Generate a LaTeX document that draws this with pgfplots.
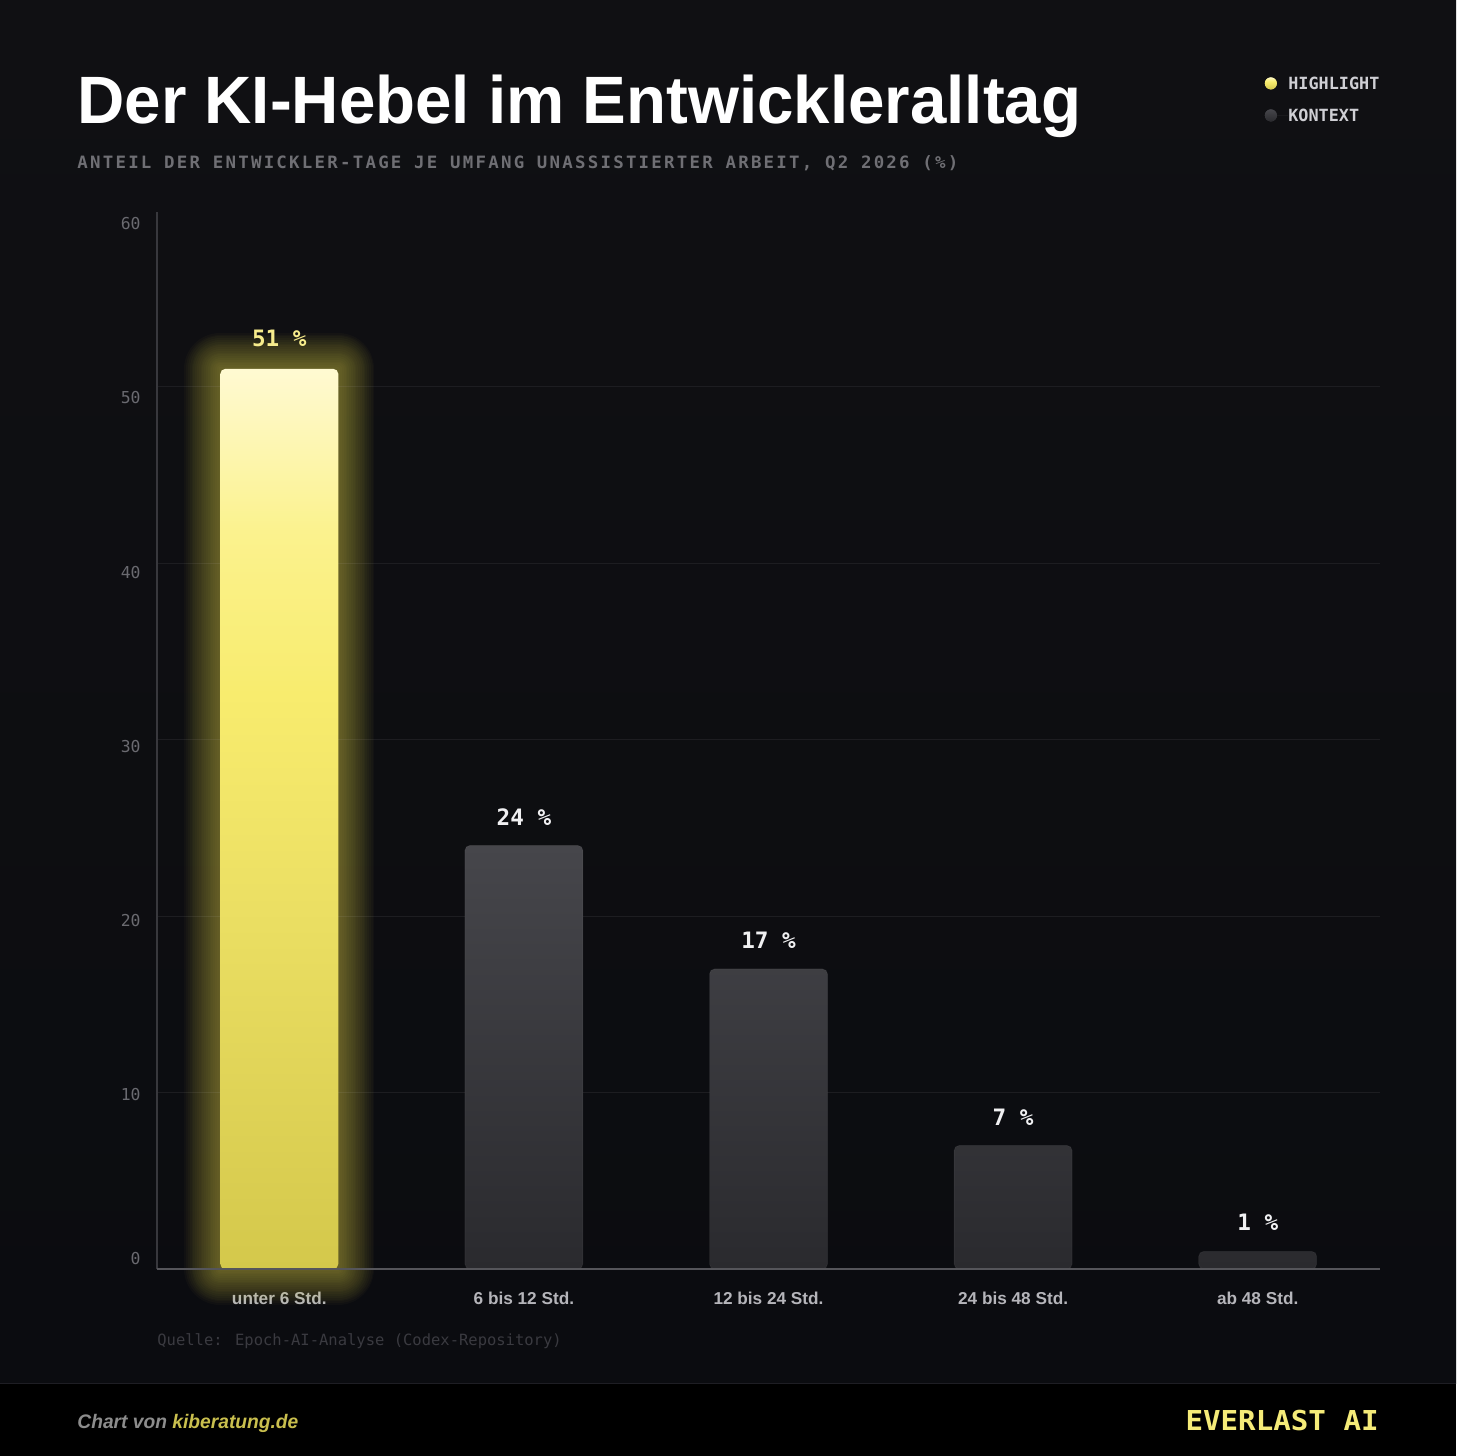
\documentclass[border=0pt]{standalone}
\usepackage{graphicx}
\usepackage{fontspec}
\setmainfont{Liberation Sans}
\newfontfamily\mono{DejaVu Sans Mono}
\newfontfamily\monosp[LetterSpace=12.8]{DejaVu Sans Mono}
\usepackage{pgfplots}
\pgfplotsset{compat=1.18}

% palette
\definecolor{bgtop}{HTML}{101013}
\definecolor{bgbot}{HTML}{0B0C10}
\definecolor{footline}{HTML}{1E1E24}
\definecolor{gridc}{HTML}{1D1D21}
\definecolor{axisc}{HTML}{38383D}
\definecolor{basec}{HTML}{55555A}
\definecolor{ylab}{HTML}{6A6A70}
\definecolor{xlab}{HTML}{B5B5BA}
\definecolor{subc}{HTML}{6F6F74}
\definecolor{srcc}{HTML}{3A3A40}
\definecolor{legc}{HTML}{CFCFD4}
\definecolor{hl}{HTML}{F8EC70}
\definecolor{hl0}{HTML}{D4C84B}
\definecolor{hl1}{HTML}{EBDF63}
\definecolor{hl2}{HTML}{F8EC6E}
\definecolor{hl3}{HTML}{FBF28E}
\definecolor{hl4}{HTML}{FFFAD2}
\definecolor{glow}{HTML}{EDE05A}
\definecolor{hllab}{HTML}{F7EC8C}
\definecolor{ctx}{HTML}{4A4A50}
\definecolor{ctxtop}{HTML}{46464B}
\definecolor{ctxbot}{HTML}{2A2A2E}
\definecolor{vallab}{HTML}{F0F0F2}
\definecolor{fgray}{HTML}{8C8C8C}
\definecolor{kib}{HTML}{C9BF4E}
\definecolor{brand}{HTML}{F5EB78}

% vertical ramp for the highlighted bar (path spans 25bp..75bp)
\pgfdeclareverticalshading{hlramp}{100bp}{%
  color(0bp)=(hl0); color(25bp)=(hl0); color(45bp)=(hl1);
  color(57bp)=(hl2); color(66bp)=(hl3); color(75bp)=(hl4); color(100bp)=(hl4)}

\pgfplotsset{/pgf/number format/assume math mode=true}

% share of developer days per amount of unassisted work
\pgfplotstableread{
x y
0 51
}\hltable
\pgfplotstableread{
x y
1 24
2 17
3 7
4 1
}\ctxtable

\begin{document}
\begin{tikzpicture}
\useasboundingbox (0pt,0pt) rectangle (728pt,-728pt);
% background and footer band
\shade[top color=bgtop, bottom color=bgbot] (0pt,0pt) rectangle (728pt,-691.5pt);
\fill[black] (0pt,-691.5pt) rectangle (728pt,-728pt);
\draw[footline, line width=0.5pt] (0pt,-691.5pt) -- (728pt,-691.5pt);

% title block
\node[anchor=base west, inner sep=0pt, text=white] at (38.5pt,-61.5pt)
  {\resizebox{502pt}{\height}{\fontsize{33.5pt}{36pt}\selectfont\bfseries Der KI-Hebel im Entwickleralltag}};
\node[anchor=base west, inner sep=0pt, text=subc] at (38.5pt,-84pt)
  {\resizebox{440.5pt}{\height}{\monosp\bfseries\fontsize{8.5pt}{10pt}\selectfont ANTEIL DER ENTWICKLER-TAGE JE UMFANG UNASSISTIERTER ARBEIT, Q2 2026 (\%)}};

\begin{axis}[
  at={(78.5pt,-634.5pt)}, anchor=south west,
  scale only axis, width=611.5pt, height=529.5pt,
  xmin=-0.5, xmax=4.5, ymin=0, ymax=60,
  clip=false,
  axis line style={draw=none},
  major tick length=0pt,
  ytick={10,20,30,40,50}, yticklabels={},
  ymajorgrids, grid style={gridc, line width=0.5pt},
  xtick={0,1,2,3,4},
  xticklabels={unter 6 Std., 6 bis 12 Std., 12 bis 24 Std., 24 bis 48 Std., ab 48 Std.},
  xticklabel style={font=\bfseries\fontsize{8.6pt}{10pt}\selectfont, text=xlab,
    anchor=base, inner sep=0pt, yshift=-17.5pt},
  legend style={at={(0.9051,1.1294)}, anchor=north west, draw=none, fill=none,
    inner sep=0pt, row sep=0pt, column sep=0pt,
    font=\mono\bfseries\fontsize{8.4pt}{10pt}\selectfont, text=legc,
    nodes={inner sep=0pt, text height=8pt, text depth=8pt}},
  legend cell align=left,
  legend columns=1,
]
% glow around the highlighted bar
\pgfplotsinvokeforeach{1.8,3.6,5.4,7.2,9,10.8,12.6,14.4,16.2,18,19.8,21.6,23.4,25.2,27,28.8,30.6,32.4,34.2,36}{
  \addplot[ybar, bar width=59pt, bar shift=0pt, fill=none, draw=glow,
    draw opacity=0.028, line width=#1pt, line join=round, forget plot]
    table[x=x, y=y] {\hltable};
}
\addplot[ybar, bar width=59pt, bar shift=0pt, draw=none,
  shade, shading=hlramp, rounded corners=2.5pt,
  legend image code/.code={\fill[hl] (0pt,3pt) circle (3pt); \path (3pt,3pt) -- (8.5pt,3pt);}]
  table[x=x, y=y] {\hltable};
\addlegendentry{HIGHLIGHT}
\addplot[ybar, bar width=59pt, bar shift=0pt, draw=white, draw opacity=0.04, line width=0.5pt,
  top color=ctxtop, bottom color=ctxbot, rounded corners=2.5pt,
  legend image code/.code={\fill[ctx] (0pt,3pt) circle (3pt); \path (3pt,3pt) -- (8.5pt,3pt);}]
  table[x=x, y=y] {\ctxtable};
\addlegendentry{KONTEXT}

% value labels
\addplot[draw=none, mark=none, forget plot,
  nodes near coords={\pgfmathprintnumber{\pgfplotspointmeta}~\%},
  every node near coord/.append style={font=\mono\bfseries\fontsize{11.3pt}{13pt}\selectfont,
    text=hllab, anchor=base, yshift=11.2pt}]
  table[x=x, y=y] {\hltable};
\addplot[draw=none, mark=none, forget plot,
  nodes near coords={\pgfmathprintnumber{\pgfplotspointmeta}~\%},
  every node near coord/.append style={font=\mono\bfseries\fontsize{11.3pt}{13pt}\selectfont,
    text=vallab, anchor=base, yshift=10.2pt}]
  table[x=x, y=y] {\ctxtable};

% axis lines
\draw[axisc, line width=0.6pt] (rel axis cs:0,0) -- (rel axis cs:0,0.998);
\draw[basec, line width=1.2pt] (axis cs:-0.5,0) -- (axis cs:4.5,0);
\end{axis}

% value scale labels
\begin{axis}[
  at={(78.5pt,-634.5pt)}, anchor=south west,
  scale only axis, width=611.5pt, height=529.5pt,
  xmin=-0.5, xmax=4.5, ymin=0, ymax=60.79,
  axis line style={draw=none},
  major tick length=0pt,
  xtick=\empty,
  ytick={10,20,30,40,50,60},
  extra y ticks={0.63}, extra y tick labels={0},
  yticklabel style={font=\mono\fontsize{8.2pt}{10pt}\selectfont, text=ylab,
    inner sep=0pt, anchor=east, xshift=-8pt},
]
\end{axis}

% source and footer
\node[anchor=base west, inner sep=0pt, text=srcc] at (78.5pt,-672.5pt)
  {\mono\fontsize{7.75pt}{9pt}\selectfont Quelle: Epoch-AI-Analyse (Codex-Repository)};
\node[anchor=base west, inner sep=0pt] at (38.5pt,-714pt)
  {\resizebox{110.5pt}{\height}{\fontsize{9.8pt}{12pt}\selectfont\bfseries\itshape\textcolor{fgray}{Chart von }\textcolor{kib}{kiberatung.de}}};
\node[anchor=base east, inner sep=0pt, text=brand] at (689.5pt,-715pt)
  {\resizebox{96.5pt}{\height}{\mono\bfseries\fontsize{13.7pt}{16pt}\selectfont EVERLAST AI}};
\end{tikzpicture}
\end{document}
